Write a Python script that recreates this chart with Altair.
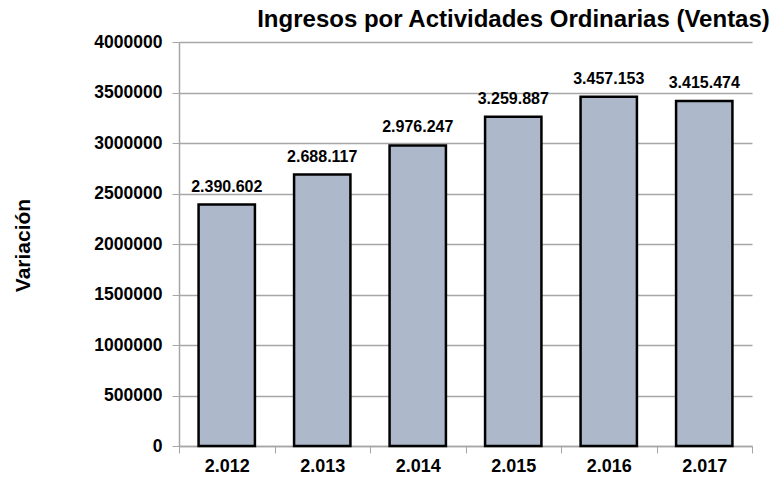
import altair as alt
import pandas as pd

years = ["2.012", "2.013", "2.014", "2.015", "2.016", "2.017"]
values = [2390602, 2688117, 2976247, 3259887, 3457153, 3415474]
labels = ["2.390.602", "2.688.117", "2.976.247", "3.259.887", "3.457.153", "3.415.474"]
y_ticks = [0, 500000, 1000000, 1500000, 2000000, 2500000, 3000000, 3500000, 4000000]

df = pd.DataFrame({"year": years, "value": values, "label": labels})

FONT = "Liberation Sans"
GRID = "#a6a6a6"

x = alt.X("year:N", sort=years, title=None,
          scale=alt.Scale(paddingInner=0, paddingOuter=0),
          axis=alt.Axis(labelAngle=0, labelFont=FONT, labelFontSize=18, labelFontWeight="bold",
                        labelColor="black", labelBaseline="alphabetic", labelPadding=18,
                        tickSize=7, tickColor=GRID, tickBand="extent", bandPosition=0,
                        domainColor=GRID, domainWidth=1.5, grid=False))
y = alt.Y("value:Q", title="Variación",
          scale=alt.Scale(domain=[0, 4000000], nice=False),
          axis=alt.Axis(values=y_ticks, format="d", labelFont=FONT, labelFontSize=17.5,
                        labelFontWeight="bold", labelColor="black", labelPadding=10,
                        tickSize=7, tickColor=GRID, domainColor=GRID, domainWidth=1.5,
                        gridColor=GRID, gridWidth=1.5,
                        titleFont=FONT, titleFontSize=21, titleFontWeight="bold",
                        titleColor="black", titleX=-150, titleY=203, titleAngle=-90,
                        titleBaseline="alphabetic", titleAlign="center"))

bars = alt.Chart(df).mark_bar(
    width=alt.RelativeBandSize(0.59), fill="#adb9ca", stroke="black", strokeWidth=2.5
).encode(x=x, y=y)

text = alt.Chart(df).mark_text(
    font=FONT, fontSize=16, fontWeight="bold", color="black", dy=-13, baseline="alphabetic"
).encode(x=alt.X("year:N", sort=years), y="value:Q", text="label:N")

chart = (bars + text).properties(
    width=573, height=404,
    autosize=alt.AutoSizeParams(type="none"),
    padding={"left": 171, "top": 34, "right": 23, "bottom": 30},
    title=alt.TitleParams("Ingresos por Actividades Ordinarias (Ventas)", font=FONT,
                          fontSize=24, fontWeight="bold", color="black", anchor="middle",
                          dx=48, offset=1, frame="group"),
).configure_view(stroke=None)

chart.save("out.html", embed_options={"renderer": "svg", "actions": False})
